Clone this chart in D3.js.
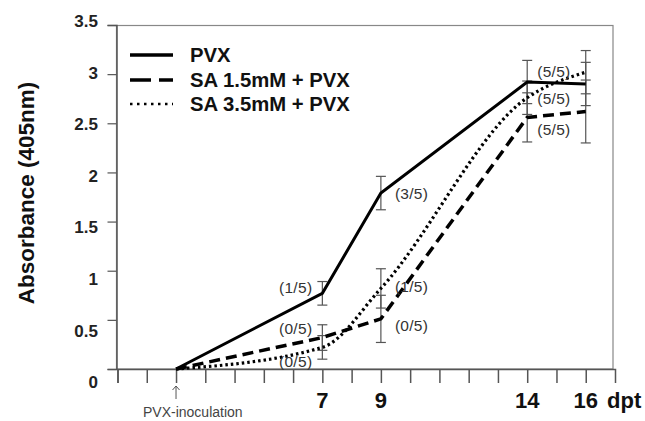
<!DOCTYPE html>
<html>
<head>
<meta charset="utf-8">
<style>
  body { margin: 0; background: #fff; }
  svg text { font-family: "Liberation Sans", Arial, sans-serif; }
</style>
</head>
<body>
<script src="https://d3js.org/d3.v7.min.js"></script>
<script>
// data
var days = [2, 7, 9, 14, 16];
var pvx = [0, 0.77, 1.79, 2.92, 2.90];
var pvxErr = [0, 0.12, 0.17, 0.22, 0.22];
var sa15 = [0, 0.32, 0.51, 2.56, 2.62];
var sa15Err = [0, 0.13, 0.24, 0.25, 0.32];
var sa35 = [0, 0.22, 0.82, 2.76, 3.02];
var sa35Err = [0, 0.12, 0.20, 0.17, 0.22];
var seriesNames = ["PVX", "SA 1.5mM + PVX", "SA 3.5mM + PVX"];
var yTicks = [0, 0.5, 1, 1.5, 2, 2.5, 3, 3.5];
var xTicks = d3.range(0, 17);
var xLabels = [7, 9, 14, 16];
// infection ratios: text, day, level
var ratioText = ["(1/5)", "(0/5)", "(0/5)", "(3/5)", "(1/5)", "(0/5)", "(5/5)", "(5/5)", "(5/5)"];
var ratioDay = [7, 7, 7, 9, 9, 9, 14, 14, 14];
var ratioVal = [0.83, 0.41, 0.08, 1.79, 0.84, 0.44, 3.03, 2.75, 2.44];

var W = 645, H = 421;
var svg = d3.select("body").append("svg").attr("width", W).attr("height", H);

var x = d3.scaleLinear().domain([0, 17]).range([117.5, 615]);
var y = d3.scaleLinear().domain([0, 3.5]).range([369, 25]);
var yLab = d3.scaleLinear().domain([0, 3.5]).range([382, 21]); // labels drift a bit from ticks in the original

// plot frame
svg.append("rect")
    .attr("x", 116.5).attr("y", 25.5)
    .attr("width", 613 - 116.5).attr("height", 369 - 25.5)
    .attr("fill", "none").attr("stroke", "#888").attr("stroke-width", 1.2);

// y axis
var yAxis = d3.axisLeft(y).tickValues(yTicks).tickSize(9).tickFormat("");
var gy = svg.append("g").attr("transform", "translate(116.5,0)").call(yAxis);
gy.select(".domain").attr("stroke", "#555").attr("stroke-width", 1.5);
gy.selectAll(".tick line").attr("stroke", "#555").attr("stroke-width", 1.2);

svg.selectAll(".ylab").data(yTicks).enter().append("text")
    .attr("class", "ylab")
    .attr("x", 98).attr("y", d => yLab(d)).attr("dy", "0.36em")
    .attr("text-anchor", "end")
    .attr("font-size", 17).attr("font-weight", "bold").attr("fill", "#222")
    .text(d => d);

// x axis
var xAxis = d3.axisBottom(x).tickValues(xTicks).tickSize(14).tickFormat("");
var gx = svg.append("g").attr("transform", "translate(0,369)").call(xAxis);
gx.select(".domain").attr("stroke", "#555").attr("stroke-width", 1.5);
gx.selectAll(".tick line").attr("stroke", "#555").attr("stroke-width", 1.5);

svg.selectAll(".xlab").data(xLabels).enter().append("text")
    .attr("class", "xlab")
    .attr("x", d => x(d)).attr("y", 408)
    .attr("text-anchor", "middle")
    .attr("font-size", 22).attr("font-weight", "bold").attr("fill", "#111")
    .text(d => d);

svg.append("text")
    .attr("x", 607).attr("y", 408)
    .attr("font-size", 22).attr("font-weight", "bold").attr("fill", "#111")
    .text("dpt");

// y title
svg.append("text")
    .attr("transform", "translate(34,193) rotate(-90)")
    .attr("text-anchor", "middle")
    .attr("font-size", 22.5).attr("font-weight", "bold").attr("fill", "#111")
    .text("Absorbance (405nm)");

// inoculation marker
var ax = x(2);
svg.append("path")
    .attr("d", "M" + ax + ",399V386M" + (ax - 3.5) + ",390L" + ax + ",386L" + (ax + 3.5) + ",390")
    .attr("fill", "none").attr("stroke", "#555").attr("stroke-width", 1);
svg.append("text")
    .attr("x", 143).attr("y", 417)
    .attr("font-family", "'Open Sans', sans-serif")
    .attr("font-size", 14).attr("fill", "#444")
    .text("PVX-inoculation");

// error bars
var allSeries = [
    { vals: pvx, err: pvxErr },
    { vals: sa15, err: sa15Err },
    { vals: sa35, err: sa35Err }
];
allSeries.forEach(function (s) {
    days.forEach(function (d, i) {
        if (s.err[i] == 0) return;
        var g = svg.append("g").attr("stroke", "#555").attr("stroke-width", 1.2);
        var top = y(s.vals[i] + s.err[i]), bot = y(s.vals[i] - s.err[i]);
        g.append("line").attr("x1", x(d)).attr("x2", x(d)).attr("y1", top).attr("y2", bot);
        g.append("line").attr("x1", x(d) - 5).attr("x2", x(d) + 5).attr("y1", top).attr("y2", top);
        g.append("line").attr("x1", x(d) - 5).attr("x2", x(d) + 5).attr("y1", bot).attr("y2", bot);
    });
});

// lines
var styles = [
    { dash: null, width: 3, curve: d3.curveLinear },
    { dash: "11,6", width: 3.5, curve: d3.curveLinear },
    { dash: "2.5,3", width: 3.2, curve: d3.curveMonotoneX }
];
allSeries.forEach(function (s, k) {
    var line = d3.line().x((d, i) => x(days[i])).y(d => y(d)).curve(styles[k].curve);
    svg.append("path")
        .attr("d", line(s.vals))
        .attr("fill", "none").attr("stroke", "#000")
        .attr("stroke-width", styles[k].width)
        .attr("stroke-dasharray", styles[k].dash);
});

// ratio labels
svg.selectAll(".ratio").data(ratioText).enter().append("text")
    .attr("class", "ratio")
    .attr("x", (d, i) => ratioDay[i] == 7 ? x(7) - 10 : x(ratioDay[i]) + (ratioDay[i] == 9 ? 14 : 10))
    .attr("y", (d, i) => y(ratioVal[i])).attr("dy", "0.36em")
    .attr("text-anchor", (d, i) => ratioDay[i] == 7 ? "end" : "start")
    .attr("font-size", 15.5).attr("letter-spacing", 0.3).attr("fill", "#333")
    .text(d => d);

// legend
var legY = [55, 80, 104];
var legDash = [null, "21,8", "2.5,4.5"];
seriesNames.forEach(function (name, k) {
    svg.append("line")
        .attr("x1", 130).attr("x2", 173).attr("y1", legY[k]).attr("y2", legY[k])
        .attr("stroke", "#000").attr("stroke-width", k == 2 ? 2.5 : 3.5)
        .attr("stroke-dasharray", legDash[k]);
    svg.append("text")
        .attr("x", 190).attr("y", legY[k]).attr("dy", "0.36em")
        .attr("font-size", 20.3).attr("font-weight", "bold").attr("fill", "#111")
        .text(name);
});
</script>
</body>
</html>
